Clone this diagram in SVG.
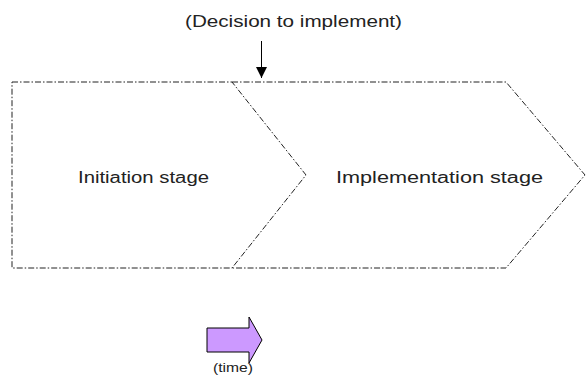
<svg xmlns="http://www.w3.org/2000/svg" width="586" height="375" viewBox="0 0 586 375">
<style>
.stage{fill:none;stroke:#222;stroke-width:1;stroke-dasharray:6 2 1.5 2}
.lbl{font-family:"Liberation Sans",Arial,sans-serif;fill:#222}
</style>
<defs>
<marker id="ah" markerWidth="11" markerHeight="11" refX="11" refY="5.5" orient="auto" markerUnits="userSpaceOnUse">
<path d="M0,0 L11,5.5 L0,11 Z" fill="#000"/>
</marker>
</defs>
<rect width="586" height="375" fill="#fff"/>
<g id="implementation">
<path class="stage" d="M232,82 L506,82 L585,175 L506,268 L232,268"/>
<text class="lbl" x="336" y="183" font-size="16" textLength="207" lengthAdjust="spacingAndGlyphs">Implementation stage</text>
</g>
<g id="initiation">
<polygon class="stage" points="12,82 232,82 306,175 232,268 12,268"/>
<text class="lbl" x="78" y="183" font-size="16" textLength="131" lengthAdjust="spacingAndGlyphs">Initiation stage</text>
</g>
<g id="decision">
<text class="lbl" x="185" y="27" font-size="16" textLength="217" lengthAdjust="spacingAndGlyphs">(Decision to implement)</text>
</g>
<g id="connectors">
<line x1="261.5" y1="41" x2="261.5" y2="78" stroke="#000" stroke-width="1" marker-end="url(#ah)"/>
</g>
<g id="time">
<polygon points="207,328 249,328 249,317 262,340 249,363 249,352 207,352" fill="#CC99FF" stroke="#000" stroke-width="1"/>
<text class="lbl" x="213" y="372" font-size="12" textLength="40" lengthAdjust="spacingAndGlyphs">(time)</text>
</g>
</svg>
